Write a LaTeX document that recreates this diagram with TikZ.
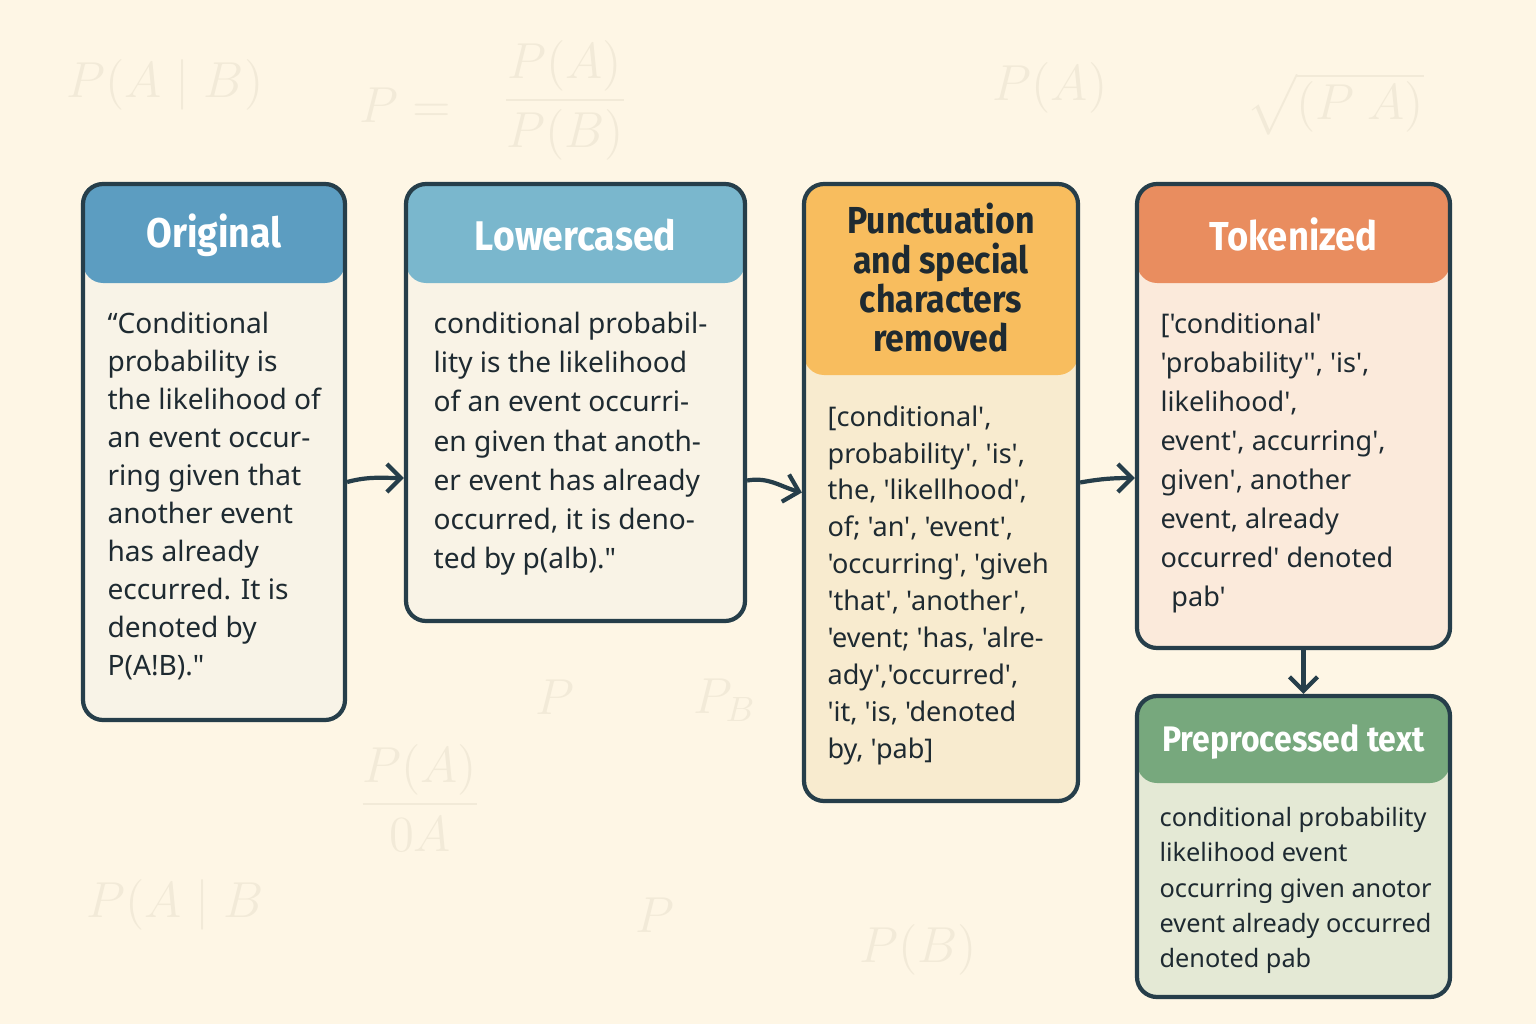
\documentclass[tikz,border=0pt]{standalone}
\usepackage{amsmath}
\usepackage{fontspec}
\setmainfont{Noto Sans}[Ligatures=TeXOff]
\newfontfamily\headfont{Fira Sans}[Ligatures=TeXOff, FakeStretch=0.9]
\usepackage{tikz}
\usepackage{xcolor}
\usetikzlibrary{positioning, arrows.meta}

\definecolor{paper}{HTML}{FEF6E5}
\definecolor{ghost}{HTML}{F2EAD8}
\definecolor{edge}{HTML}{263E4A}
\definecolor{ink}{HTML}{1E2A31}
\definecolor{orighead}{HTML}{5C9DC1}
\definecolor{origbody}{HTML}{F8F3E7}
\definecolor{lowerhead}{HTML}{7AB7CD}
\definecolor{lowerbody}{HTML}{F9F3E6}
\definecolor{puncthead}{HTML}{F8BD5E}
\definecolor{punctbody}{HTML}{F8EBCF}
\definecolor{tokenhead}{HTML}{E98D5F}
\definecolor{tokenbody}{HTML}{FBEADB}
\definecolor{prephead}{HTML}{77A87D}
\definecolor{prepbody}{HTML}{E4E9D5}

\tikzset{
    stage/.style n args={3}{draw=edge, line width=1.2pt, rounded corners=0.2cm, inner sep=0pt, fill=#2,
        path picture={\fill[#1] ([yshift=2pt]path picture bounding box.north west) rectangle ([yshift=-#3]path picture bounding box.north east);}},
    title/.style={text=white, font=\headfont\bfseries\fontsize{#1}{11.2}\selectfont, align=center, inner sep=0pt},
    title/.default=11.8,
    body/.style={text=ink, align=left, anchor=north west, inner sep=0pt},
    flow/.style={draw=edge, line width=1.2pt, -{Straight Barb[length=4pt, width=8pt, line width=1.2pt]}},
    watermark/.style={text=ghost, font=\fontsize{14}{14}\selectfont}
}

\begin{document}
\begin{tikzpicture}
    \fill[paper] (0, 0) rectangle (15.36, 10.24);
    \useasboundingbox (0, 0) rectangle (15.36, 10.24);

    % faint formulas in the background
    \node[watermark] (m1) at (1.65, 9.39) {$P(A\mid B)$};
    \node[watermark] (m2) at (4.05, 9.19) {$P=$};
    \node[watermark] (m3) at (5.65, 9.24) {$\dfrac{P(A)}{P(B)}$};
    \node[watermark] (m4) at (10.5, 9.36) {$P(A)$};
    \node[watermark] (m5) at (13.35, 9.2) {$\sqrt{(P\ A)}$};
    \node[watermark] (m6) at (5.55, 3.27) {$P$};
    \node[watermark] (m7) at (7.25, 3.24) {$P_B$};
    \node[watermark] (m8) at (4.2, 2.26) {$\dfrac{P(A)}{0A}$};
    \node[watermark] (m9) at (1.75, 1.19) {$P(A\mid B$};
    \node[watermark] (m10) at (6.55, 1.09) {$P$};
    \node[watermark] (m11) at (9.18, 0.74) {$P(B)$};

    % the five stages
    \node[stage={orighead}{origbody}{0.99cm}, minimum width=2.62cm, minimum height=5.36cm] (orig) at (2.14, 5.72) {};
    \node[stage={lowerhead}{lowerbody}{0.99cm}, minimum width=3.39cm, minimum height=4.37cm] (lower) at (5.755, 6.215) {};
    \node[stage={puncthead}{punctbody}{1.91cm}, minimum width=2.74cm, minimum height=6.17cm] (punct) at (9.41, 5.315) {};
    \node[stage={tokenhead}{tokenbody}{0.99cm}, minimum width=3.13cm, minimum height=4.64cm] (token) at (12.935, 6.08) {};
    \node[stage={prephead}{prepbody}{0.87cm}, minimum width=3.13cm, minimum height=3.01cm] (prep) at (12.935, 1.775) {};

    \node[title] (orig-t) at ([yshift=-0.53cm]orig.north) {Original};
    \node[title] (lower-t) at ([yshift=-0.53cm]lower.north) {Lowercased};
    \node[title=10.7, text=ink] (punct-t) at ([yshift=-0.96cm]punct.north) {Punctuation\\and special\\characters\\removed};
    \node[title=11.5] (token-t) at ([yshift=-0.53cm]token.north) {Tokenized};
    \node[title=10.1] (prep-t) at ([yshift=-0.48cm]prep.north) {Preprocessed text};

    \node[body, font=\fontsize{8}{10.8}\selectfont] (orig-b) at ([xshift=0.26cm, yshift=-1.3cm]orig.north west)
        {“Conditional\\probability is\\the likelihood of\\an event occur-\\ring given that\\another event\\has already\\eccurred. It is\\denoted by\\P(A!B)."};
    \node[body, font=\fontsize{8}{11.1}\selectfont] (lower-b) at ([xshift=0.29cm, yshift=-1.3cm]lower.north west)
        {conditional probabil-\\lity is the likelihood\\of an event occurri-\\en given that anoth-\\er event has already\\occurred, it is deno-\\ted by p(alb)."};
    \node[body, font=\fontsize{7.7}{10.5}\selectfont] (punct-b) at ([xshift=0.25cm, yshift=-2.23cm]punct.north west)
        {[conditional',\\probability', 'is',\\the, 'likellhood',\\of; 'an', 'event',\\'occurring', 'giveh\\'that', 'another',\\'event; 'has, 'alre-\\ady','occurred',\\'it, 'is, 'denoted\\by, 'pab]};
    \node[body, font=\fontsize{7.7}{11.1}\selectfont] (token-b) at ([xshift=0.25cm, yshift=-1.3cm]token.north west)
        {['conditional'\\'probability'', 'is',\\likelihood',\\event', accurring',\\given', another\\event, already\\occurred' denoted\\\hspace{0.4em}pab'};
    \node[body, font=\fontsize{7.2}{10}\selectfont] (prep-b) at ([xshift=0.24cm, yshift=-1.13cm]prep.north west)
        {conditional probability\\likelihood event\\occurring given anotor\\event already occurred\\denoted pab};

    % connectors
    \draw[flow] ([yshift=-0.3cm]orig.east) to[out=15, in=180] ([yshift=-0.755cm]lower.west);
    \draw[flow] ([yshift=-0.78cm]lower.east) to[out=10, in=165] (punct.west);
    \draw[flow] ([yshift=0.1cm]punct.east) to[out=10, in=180] ([yshift=-0.62cm]token.west);
    \draw[flow] ([xshift=0.1cm]token.south) -- ([xshift=0.1cm]prep.north);
\end{tikzpicture}
\end{document}
